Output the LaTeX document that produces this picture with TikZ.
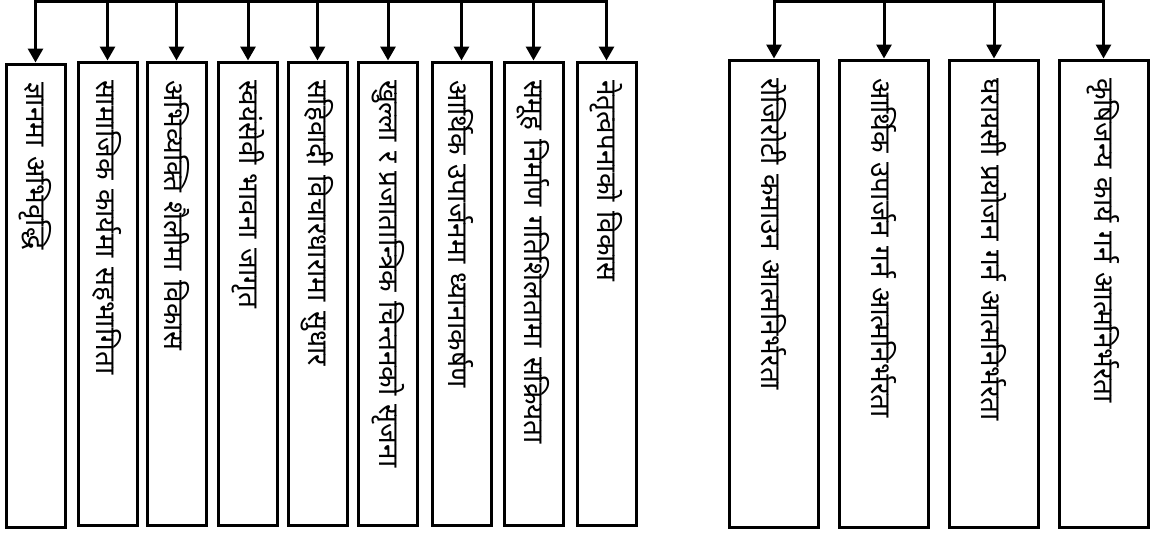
\documentclass[tikz,border=0pt]{standalone}
\usepackage{fontspec}
\newfontfamily\devfont[Script=Devanagari]{Noto Sans}
\usetikzlibrary{arrows.meta}
\begin{document}
\begin{tikzpicture}[x=1pt,y=-1pt,
    kbox/.style={draw,line width=3pt,rotate=-90,anchor=west,inner xsep=18pt,inner ysep=0pt,align=left,
      font=\devfont\fontsize{28}{32}\selectfont},
    lbox/.style={kbox,text width=427pt,minimum width=463pt,minimum height=59pt},
    rbox/.style={kbox,text width=431pt,minimum width=467pt,minimum height=89pt},
    arr/.style={line width=3pt,-{Triangle[width=15pt,length=14pt]}}]
  \useasboundingbox (0,0) rectangle (1174,536);
  \coordinate (busL) at (0,1.5);
  \coordinate (busR) at (0,1.5);
  % left group
  \node[lbox] (l1) at (35.5,62.5) {ज्ञानमा अभिवृद्धि};
  \node[lbox] (l2) at (107.5,60.5) {सामाजिक कार्यमा सहभागिता};
  \node[lbox] (l3) at (176.5,60.5) {अभिव्यक्ति शैलीमा विकास};
  \node[lbox] (l4) at (248,60.5) {स्वयंसेवी भावना जागृत};
  \node[lbox] (l5) at (317.5,60.5) {सहिवादी विचारधारामा सुधार};
  \node[lbox] (l6) at (388,60.5) {खुल्ला र प्रजातान्त्रिक चिन्तनको सृजना};
  \node[lbox] (l7) at (461.5,60.5) {आर्थिक उपार्जनमा ध्यानाकर्षण};
  \node[lbox] (l8) at (533.5,60.5) {समूह निर्माण गतिशिलतामा सक्रियता};
  \node[lbox] (l9) at (606.5,60.5) {नेतृत्वपनाको विकास};
  % right group
  \node[rbox] (r1) at (774,58.5) {रोजिरोटी कमाउन आत्मनिर्भरता};
  \node[rbox] (r2) at (884,58.5) {आर्थिक उपार्जन गर्न आत्मनिर्भरता};
  \node[rbox] (r3) at (994,58.5) {घरायसी प्रयोजन गर्न आत्मनिर्भरता};
  \node[rbox] (r4) at (1103.5,58.5) {कृषिजन्य कार्य गर्न आत्मनिर्भरता};
  % connectors
  \draw[line width=3pt,line cap=rect] (l1.west |- busL) -- (l9.west |- busL);
  \draw[line width=3pt,line cap=rect] (r1.west |- busR) -- (r4.west |- busR);
  \draw[arr] (l1.west |- busL) -- (l1);
  \draw[arr] (l2.west |- busL) -- (l2);
  \draw[arr] (l3.west |- busL) -- (l3);
  \draw[arr] (l4.west |- busL) -- (l4);
  \draw[arr] (l5.west |- busL) -- (l5);
  \draw[arr] (l6.west |- busL) -- (l6);
  \draw[arr] (l7.west |- busL) -- (l7);
  \draw[arr] (l8.west |- busL) -- (l8);
  \draw[arr] (l9.west |- busL) -- (l9);
  \draw[arr] (r1.west |- busR) -- (r1);
  \draw[arr] (r2.west |- busR) -- (r2);
  \draw[arr] (r3.west |- busR) -- (r3);
  \draw[arr] (r4.west |- busR) -- (r4);
\end{tikzpicture}
\end{document}
